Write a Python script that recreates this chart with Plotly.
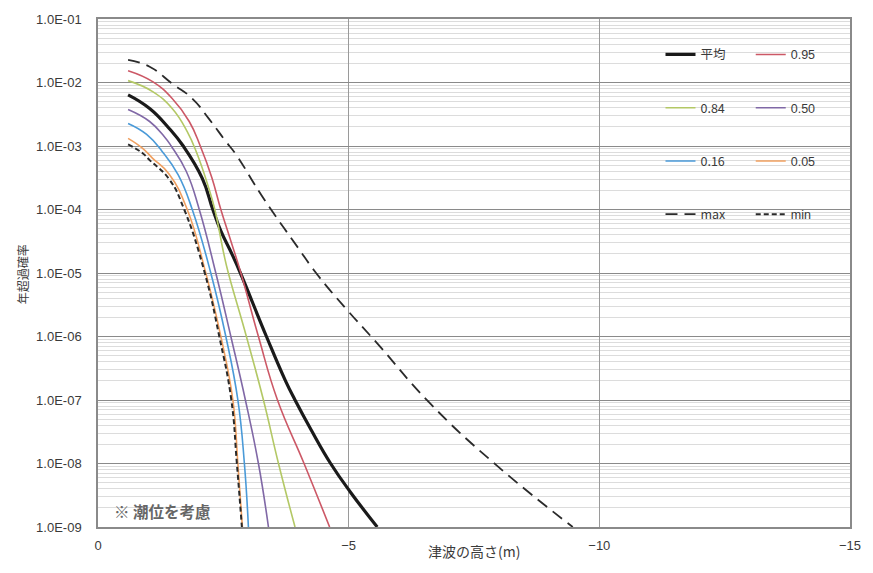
import plotly.graph_objects as go

# ---- data ----
x_mean = [-0.6, -1.03, -1.42, -1.70, -2.08, -2.29, -2.45, -2.67, -2.84, -3.36, -3.74, -3.93, -4.25, -4.64, -5.04, -5.57]
y_mean = [6.4e-3, 3.9e-3, 1.89e-3, 1.0e-3, 3.1e-4, 1.0e-4, 4.6e-5, 2.0e-5, 1.0e-5, 1.0e-6, 2.0e-7, 1.0e-7, 3.4e-8, 1.0e-8, 3.5e-9, 1.0e-9]

x_p95 = [-0.6, -1.09, -1.48, -1.82, -2.04, -2.27, -2.45, -2.65, -2.85, -3.20, -3.58, -4.11, -4.62]
y_p95 = [1.53e-2, 1.03e-2, 5.6e-3, 2.43e-3, 1.0e-3, 3.2e-4, 1.0e-4, 3.2e-5, 1.0e-5, 1.0e-6, 1.0e-7, 1.0e-8, 1.0e-9]

x_p84 = [-0.6, -1.09, -1.48, -1.78, -1.98, -2.21, -2.33, -2.51, -2.60, -2.96, -3.30, -3.60, -3.93]
y_p84 = [1.07e-2, 7.2e-3, 3.9e-3, 1.69e-3, 7.4e-4, 2.16e-4, 1.0e-4, 2.0e-5, 1.0e-5, 1.0e-6, 1.0e-7, 1.0e-8, 1.0e-9]

x_p50 = [-0.6, -1.03, -1.32, -1.46, -1.76, -2.02, -2.35, -2.65, -2.94, -3.20, -3.40]
y_p50 = [3.75e-3, 2.43e-3, 1.41e-3, 1.0e-3, 4.0e-4, 1.0e-4, 1.0e-5, 1.0e-6, 1.0e-7, 1.0e-8, 1.0e-9]

x_p16 = [-0.6, -0.97, -1.28, -1.60, -1.88, -2.25, -2.55, -2.79, -2.92, -3.00]
y_p16 = [2.26e-3, 1.52e-3, 8.2e-4, 3.5e-4, 1.0e-4, 1.0e-5, 1.0e-6, 1.0e-7, 1.0e-8, 1.0e-9]

x_p05 = [-0.6, -0.89, -1.09, -1.42, -1.78, -2.15, -2.45, -2.69, -2.79, -2.88]
y_p05 = [1.32e-3, 9.2e-4, 6.4e-4, 3.6e-4, 1.0e-4, 1.0e-5, 1.0e-6, 1.0e-7, 1.0e-8, 1.0e-9]

x_max = [-0.6, -1.03, -1.48, -1.88, -2.21, -2.55, -2.75, -3.30, -3.99, -4.35, -4.98, -5.57, -6.62, -7.94, -9.47]
y_max = [2.28e-2, 1.77e-2, 9.6e-3, 5.6e-3, 2.7e-3, 1.18e-3, 7.4e-4, 1.5e-4, 2.5e-5, 1.0e-5, 2.56e-6, 7.8e-7, 8.9e-8, 9.5e-9, 1.0e-9]

x_min = [-0.6, -0.89, -1.03, -1.42, -1.72, -2.13, -2.42, -2.66, -2.77, -2.87]
y_min = [1.06e-3, 7.7e-4, 6.0e-4, 3.0e-4, 1.0e-4, 1.0e-5, 1.0e-6, 1.0e-7, 1.0e-8, 1.0e-9]

series_names = ["平均", "0.95", "0.84", "0.50", "0.16", "0.05", "max", "min"]

y_tickvals = [1e-9, 1e-8, 1e-7, 1e-6, 1e-5, 1e-4, 1e-3, 1e-2, 1e-1]
y_ticktext = ["1.0E-09", "1.0E-08", "1.0E-07", "1.0E-06", "1.0E-05", "1.0E-04", "1.0E-03", "1.0E-02", "1.0E-01"]
x_tickvals = [0, -5, -10, -15]
x_ticktext = ["0", "\u22125", "\u221210", "\u221215"]
x_minor_ticks = [-1, -2, -3, -4, -5, -6, -7, -8, -9, -10, -11, -12, -13, -14]

# ---- styling ----
colors = ["#1a1a1a", "#cc5866", "#b3c865", "#8068a6", "#4a9ad8", "#f0a060", "#2a2a2a", "#2a2a2a"]
widths = [3.2, 1.6, 1.6, 1.6, 1.6, 1.6, 1.8, 2.0]
dashes = ["solid", "solid", "solid", "solid", "solid", "solid", "12px,7px", "5px,3px"]
legends = ["legend", "legend2", "legend", "legend2", "legend", "legend2", "legend", "legend2"]

xs = [x_mean, x_p95, x_p84, x_p50, x_p16, x_p05, x_max, x_min]
ys = [y_mean, y_p95, y_p84, y_p50, y_p16, y_p05, y_max, y_min]

fig = go.Figure()
for i, name in enumerate(series_names):
    fig.add_trace(go.Scatter(
        x=xs[i], y=ys[i], name=name, mode="lines",
        line=dict(color=colors[i], width=widths[i], dash=dashes[i], shape="spline", smoothing=1.3),
        legend=legends[i], legendgroup=name,
    ))

# minor log gridlines
minor_vals = [k * 10.0 ** e for e in range(-9, -1) for k in range(2, 10)]

fig.update_layout(
    width=873, height=573,
    margin=dict(l=98, r=16, t=17, b=46),
    paper_bgcolor="white", plot_bgcolor="white",
    font=dict(family="Liberation Sans, Noto Sans CJK JP, sans-serif", color="#3a3a3a", size=12),
    xaxis=dict(
        range=[0, -15], tickmode="array", tickvals=x_tickvals, ticktext=x_ticktext,
        showgrid=True, gridcolor="#9a9a9a", gridwidth=1, zeroline=False,
        showline=True, linecolor="#8a8a8a", linewidth=1.5, mirror=True,
        ticks="", tickfont=dict(size=13, color="#3a3a3a"), ticklabelstandoff=6,
    ),
    xaxis2=dict(
        overlaying="x", side="top", range=[0, -15], tickmode="array", tickvals=x_minor_ticks,
        ticks="inside", ticklen=4, tickcolor="#666", showticklabels=False, showgrid=False,
        zeroline=False, showline=False,
    ),
    yaxis=dict(
        type="log", range=[-9, -1], tickmode="array", tickvals=y_tickvals, ticktext=y_ticktext,
        showgrid=True, gridcolor="#8a8a8a", gridwidth=1, zeroline=False,
        showline=True, linecolor="#8a8a8a", linewidth=1.5, mirror=True,
        ticks="", tickfont=dict(size=13, color="#3a3a3a"), ticklabelstandoff=12,
        minor=dict(tickmode="array", tickvals=minor_vals, showgrid=True, gridcolor="#dcdcdc", gridwidth=1, ticks=""),
    ),
    legend=dict(
        x=0.748, y=0.959, xanchor="left", yanchor="top", bgcolor="rgba(0,0,0,0)",
        font=dict(size=12.5, color="#3a3a3a", family="Noto Sans CJK JP, Liberation Sans"),
        tracegroupgap=34, itemwidth=30,
    ),
    legend2=dict(
        x=0.868, y=0.959, xanchor="left", yanchor="top", bgcolor="rgba(0,0,0,0)",
        font=dict(size=12.5, color="#3a3a3a", family="Liberation Sans"),
        tracegroupgap=34, itemwidth=30,
    ),
    shapes=[dict(type="rect", xref="paper", yref="paper", x0=0.731, x1=0.975, y0=0.55, y1=0.99,
                 fillcolor="white", line=dict(width=0), layer="between")],
    annotations=[
        dict(text="年超過確率", textangle=-90, xref="paper", yref="paper", x=-0.100, y=0.497,
             xanchor="center", yanchor="middle",
             showarrow=False, font=dict(size=12, color="#3a3a3a", family="Noto Sans CJK JP")),
        dict(text="津波の高さ(m)", xref="paper", yref="paper", x=0.5, y=-0.047,
             xanchor="center", yanchor="middle",
             showarrow=False, font=dict(size=14, color="#3a3a3a", family="Noto Sans CJK JP")),
        dict(text="<b>※ 潮位を考慮</b>", xref="paper", yref="paper", x=0.018, y=0.031,
             xanchor="left", yanchor="middle", showarrow=False,
             font=dict(size=15.5, color="#666666", family="Noto Sans CJK JP")),
    ],
)

fig.write_html("out.html", config={"displayModeBar": False},
               post_script="document.body.style.margin='0';document.body.style.overflow='hidden';")
